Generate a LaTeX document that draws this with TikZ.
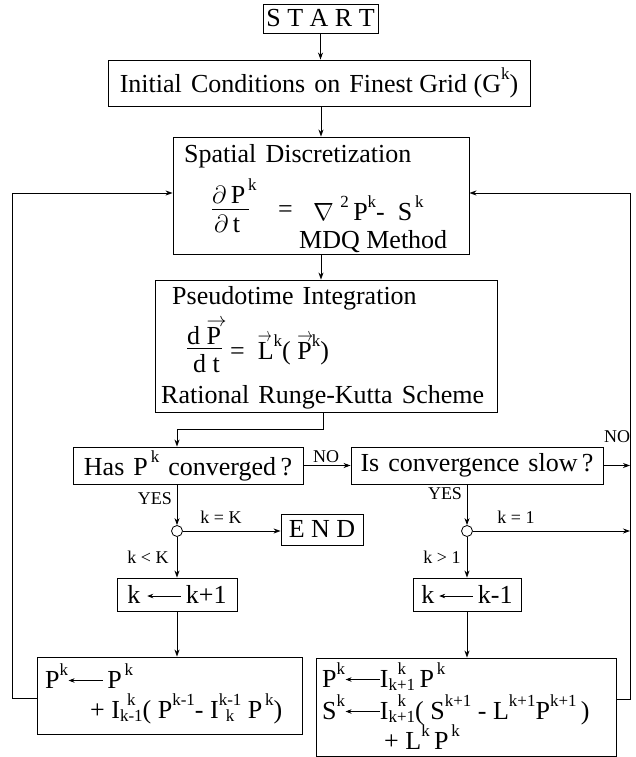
\documentclass[tikz,border=0pt]{standalone}
\usepackage{fontspec}
\setmainfont{Liberation Serif}
\usepackage{graphicx}
\usetikzlibrary{arrows.meta}
\newcommand\mainf{\fontsize{26}{30}\selectfont}
\newcommand\lblf{\fontsize{18}{20}\selectfont}
\newcommand\smf{\fontsize{17}{17}\selectfont}
\newcommand\up[1]{\raisebox{0.5em}{\smf #1}}
\newcommand\gap{\hspace{0.35em}}
\newcommand\ud[2]{\mbox{\setbox0=\hbox{\smf #1}\setbox2=\hbox{\smf #2}%
\ifdim\wd0>\wd2 \dimen0=\wd0 \else\dimen0=\wd2 \fi
\rlap{\raise0.5em\hbox to\dimen0{\hss\box0\hss}}%
\lower0.15em\hbox to\dimen0{\hss\box2\hss}}}
\newcommand\LA[1][32]{\tikz[baseline=0pt,x=1pt,y=1pt]\draw[line width=0.8pt,{Stealth[length=6pt,width=4.5pt]}-] (0,7.5) -- (#1,7.5);}
\newcommand\va[2]{\mbox{\setbox0\hbox{#2}\rlap{\raisebox{0.68em}{\resizebox{#1}{0.28em}{$\rightarrow$}}}\box0}}
\begin{document}
\begin{tikzpicture}[x=1pt,y=-1pt,
  box/.style={draw,line width=0.9pt,inner sep=0pt,font=\mainf},
  txt/.style={inner sep=0pt,font=\mainf,anchor=base west},
  lbl/.style={inner sep=0pt,font=\lblf},
  arr/.style={line width=0.8pt,-{Stealth[length=7pt,width=5pt]}},
  ln/.style={line width=0.8pt},
  junc/.style={draw,circle,line width=0.8pt,minimum size=11pt,inner sep=0pt,fill=white}]
\useasboundingbox (0,0) rectangle (635,757);
% boxes
\node[box,minimum width=115pt,minimum height=29pt] (start) at (320.5,18.5) {S T A R T};
\node[box,minimum width=422pt,minimum height=46pt] (init) at (319,83) {Initial\gap Conditions\gap on\gap Finest Grid (G\up{k})};
\node[box,minimum width=296pt,minimum height=117pt] (spatial) at (321,195.5) {};
\node[txt] (sp1) at (184,162) {Spatial\gap Discretization};
\node[txt] (sp2) at (212,203) {$\partial$\,P\up{\,k}};
\draw[ln] (212,209) -- (249,209);
\node[txt] (sp3) at (214,232) {$\partial$\,t};
\node[txt] (sp4) at (278,217) {=};
\node[txt] (sp5) at (313,220) {$\nabla$\ \up{2}\,P\up{k}-\ \ S\up{\,k}};
\node[txt] (sp6) at (299,248) {MDQ Method};
\node[box,minimum width=342pt,minimum height=132pt] (pseudo) at (326,346) {};
\node[txt] (ps1) at (172,304) {Pseudotime\gap Integration};
\node[txt] (ps2) at (187,344) {d\ \va{20pt}{P}};
\draw[ln] (187,348) -- (222,348);
\node[txt] (ps3) at (193,372) {d\ t};
\node[txt] (ps4) at (230,359) {=\ \ \va{14pt}{L}\up{k}(\ \va{16pt}{P}\up{k})};
\node[txt] (ps5) at (161,403) {Rational\gap Runge-Kutta\gap Scheme};
\node[box,minimum width=230pt,minimum height=37pt] (has) at (188,465.5) {Has\gap P\up{\,k}\gap converged\,?};
\node[box,minimum width=252pt,minimum height=37pt] (is) at (477,465.5) {Is\gap convergence\gap slow\,?};
\node[junc] (c1) at (177,531) {};
\node[junc] (c2) at (467,531) {};
\node[box,minimum width=82pt,minimum height=31pt] (endn) at (322,529.5) {E N D};
\node[box,minimum width=120pt,minimum height=33pt] (kp) at (177,594.5) {k\ \LA[34]\,k+1};
\node[box,minimum width=108pt,minimum height=33pt] (km) at (467,594.5) {k\,\LA[34]\,k-1};
\node[box,minimum width=265pt,minimum height=77pt] (bl) at (169.5,695.5) {};
\node[txt] (bl1) at (45,688) {P\up{k}\LA[34]\,P\up{\,k}};
\node[txt] (bl2) at (90,718) {+\ I\ud{k}{k-1}(\ P\up{k-1}-\ I\ud{k-1}{k}\ P\up{\,k})};
\node[box,minimum width=300pt,minimum height=98pt] (br) at (466,707) {};
\node[txt] (br1) at (322,687) {P\up{k}\LA[34]I\ud{k}{k+1}\,P\up{\,k}};
\node[txt] (br2) at (322,719) {S\up{k}\LA[34]I\ud{k}{k+1}(\ S\up{k+1}\ -\ L\up{k+1}P\up{k+1}\,)};
\node[txt] (br3) at (384,749) {+\ L\up{k}\,P\up{\,k}};
% labels
\node[lbl] (no1) at (326,457) {NO};
\node[lbl] (no2) at (617,437) {NO};
\node[lbl] (yes1) at (155,499) {YES};
\node[lbl] (yes2) at (445,494) {YES};
\node[lbl] (kK) at (221,517) {k = K};
\node[lbl] (klK) at (148,557) {k < K};
\node[lbl] (k1) at (516,517) {k = 1};
\node[lbl] (kg1) at (442,557) {k > 1};
% connectors
\coordinate (ltop) at (12.7,193);
\coordinate (rtop) at (630,193);
\coordinate (lj) at (12.7,698);
\coordinate (rj) at (630,699);
\coordinate (pj) at (323,429);
\draw[arr] (start.south) -- (start.south |- init.north);
\draw[arr] (spatial.north |- init.south) -- (spatial.north);
\draw[arr] (spatial.south) -- (spatial.south |- pseudo.north);
\draw[arr] (pj |- pseudo.south) -- (pj) -| (c1 |- has.north);
\draw[arr] (has.east) -- (is.west);
\draw[arr] (is.east) -- (is.east -| rtop);
\draw[arr] (c1 |- has.south) -- (c1.north);
\draw[arr] (c1.east) -- (c1.east -| endn.west);
\draw[arr] (c1.south) -- (kp.north);
\draw[arr] (kp.south) -- (kp.south |- bl.north);
\draw[arr] (lj -| bl.west) -- (lj) -- (ltop) -- (ltop -| spatial.west);
\draw[arr] (c2 |- is.south) -- (c2.north);
\draw[arr] (c2.east) -- (c2 -| rtop);
\draw[arr] (c2.south) -- (km.north);
\draw[arr] (km.south) -- (km.south |- br.north);
\draw[arr] (rj -| br.east) -- (rj) -- (rtop) -- (rtop -| spatial.east);
\end{tikzpicture}
\end{document}
